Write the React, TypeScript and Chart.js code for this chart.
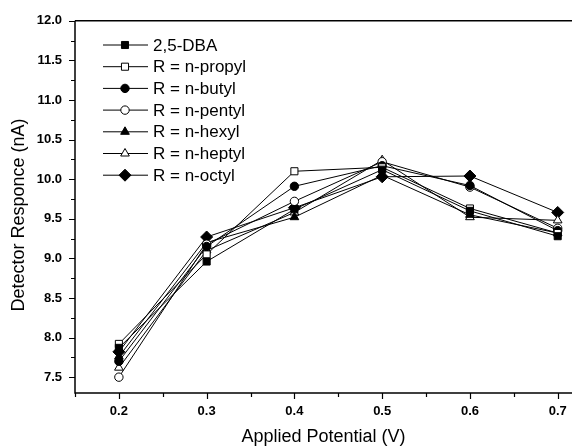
import React, { useEffect, useRef } from 'react';
import { Chart, registerables } from 'chart.js';
import { drawPoint } from 'chart.js/helpers';

Chart.register(...registerables);

const potentials = [0.2, 0.3, 0.4, 0.5, 0.6, 0.7];
const seriesLabels = ['2,5-DBA', 'R = n-propyl', 'R = n-butyl', 'R = n-pentyl', 'R = n-hexyl', 'R = n-heptyl', 'R = n-octyl'];
const dba = [7.87, 8.96, 9.62, 10.12, 9.60, 9.28];
const propyl = [7.92, 9.05, 10.10, 10.15, 9.63, 9.32];
const butyl = [7.70, 9.15, 9.91, 10.17, 9.92, 9.35];
const pentyl = [7.50, 9.18, 9.72, 10.22, 9.90, 9.38];
const hexyl = [7.76, 9.20, 9.52, 10.05, 9.55, 9.32];
const heptyl = [7.62, 9.10, 9.58, 10.24, 9.52, 9.48];
const octyl = [7.82, 9.27, 9.64, 10.03, 10.04, 9.58];
const yTickValues = [7.5, 8.0, 8.5, 9.0, 9.5, 10.0, 10.5, 11.0, 11.5, 12.0];
const xTickValues = [0.2, 0.3, 0.4, 0.5, 0.6, 0.7];
const xTitle = 'Applied Potential (V)';
const yTitle = 'Detector Responce (nA)';

const seriesValues = [dba, propyl, butyl, pentyl, hexyl, heptyl, octyl];
const markerStyles = ['rect', 'rect', 'circle', 'circle', 'triangle', 'triangle', 'rectRot'];
const markerFilled = [true, false, true, false, true, false, true];
const markerRadius = [5, 5, 4.2, 4.2, 5, 5, 6];

const FONT = "'Liberation Sans', Arial, sans-serif";

const overlayPlugin = {
  id: 'overlay',
  afterDraw(chart: any) {
    const ctx = chart.ctx;
    const area = chart.chartArea;
    const xs = chart.scales.x;
    const ys = chart.scales.y;
    ctx.save();
    ctx.strokeStyle = '#000';
    ctx.lineWidth = 1.5;
    ctx.beginPath();
    ctx.moveTo(area.left, area.top);
    ctx.lineTo(area.left, area.bottom);
    ctx.lineTo(area.right, area.bottom);
    ctx.moveTo(area.left, area.top);
    ctx.lineTo(area.right, area.top);
    ctx.stroke();
    ctx.lineWidth = 1.2;
    ctx.beginPath();
    for (let v = 7.5; v <= 12.001; v += 0.25) {
      const y = Math.round(ys.getPixelForValue(v)) + 0.5;
      const major = Math.abs(v * 2 - Math.round(v * 2)) < 1e-6;
      ctx.moveTo(area.left, y);
      ctx.lineTo(area.left - (major ? 6 : 4), y);
    }
    for (let v = 0.15; v <= 0.72; v += 0.05) {
      const x = Math.round(xs.getPixelForValue(v)) + 0.5;
      if (x > area.right) break;
      const major = Math.abs(v * 10 - Math.round(v * 10)) < 1e-6;
      ctx.moveTo(x, area.bottom);
      ctx.lineTo(x, area.bottom + (major ? 6 : 4));
    }
    ctx.stroke();

    ctx.fillStyle = '#000';
    ctx.font = `18px ${FONT}`;
    ctx.textAlign = 'center';
    ctx.textBaseline = 'middle';
    ctx.fillText(xTitle, (area.left + area.right) / 2, 437);
    ctx.save();
    ctx.translate(19, 215);
    ctx.rotate(-Math.PI / 2);
    ctx.fillText(yTitle, 0, 0);
    ctx.restore();

    ctx.font = `17px ${FONT}`;
    ctx.textAlign = 'left';
    chart.data.datasets.forEach((ds: any, i: number) => {
      const y = 45 + i * 21.7;
      ctx.strokeStyle = '#000';
      ctx.lineWidth = 1;
      ctx.beginPath();
      ctx.moveTo(103, y);
      ctx.lineTo(148, y);
      ctx.stroke();
      ctx.fillStyle = ds.pointBackgroundColor;
      ctx.strokeStyle = '#000';
      drawPoint(ctx, { pointStyle: ds.pointStyle, radius: ds.pointRadius, rotation: 0, borderWidth: 1 }, 125, y);
      ctx.fillStyle = '#000';
      ctx.fillText(ds.label, 153, y + 1);
    });
    ctx.restore();
  },
};

export default function App() {
  const ref = useRef<HTMLCanvasElement>(null);
  useEffect(() => {
    if (!ref.current) return;
    const datasets = seriesLabels.map((label, i) => ({
      label,
      data: potentials.map((p, j) => ({ x: p, y: seriesValues[i][j] })),
      borderColor: '#000',
      borderWidth: 1,
      pointStyle: markerStyles[i],
      pointRadius: markerRadius[i],
      pointBackgroundColor: markerFilled[i] ? '#000' : '#fff',
      pointBorderColor: '#000',
      pointBorderWidth: 1,
      fill: false,
      tension: 0,
    }));
    const chart = new Chart(ref.current, {
      type: 'line',
      data: { datasets },
      options: {
        animation: false,
        responsive: false,
        layout: { padding: { top: 17, right: 0, left: 0, bottom: 0 } },
        plugins: { legend: { display: false }, tooltip: { enabled: false } },
        scales: {
          x: {
            type: 'linear',
            min: 0.15,
            max: 0.7163,
            afterBuildTicks: (s: any) => { s.ticks = xTickValues.map((v) => ({ value: v })); },
            afterFit: (s: any) => { s.height = 55; },
            ticks: {
              color: '#000',
              font: { family: FONT, size: 13, weight: 'bold' },
              padding: 11,
              maxRotation: 0,
              callback: (v: any) => Number(v).toFixed(1),
            },
            grid: { display: false, drawTicks: false },
            border: { display: false },
          },
          y: {
            type: 'linear',
            min: 7.3,
            max: 12.0,
            afterBuildTicks: (s: any) => { s.ticks = yTickValues.map((v) => ({ value: v })); },
            afterFit: (s: any) => { s.width = 75; },
            ticks: {
              color: '#000',
              font: { family: FONT, size: 13, weight: 'bold' },
              padding: 13,
              callback: (v: any) => Number(v).toFixed(1),
            },
            grid: { display: false, drawTicks: false },
            border: { display: false },
          },
        },
      },
      plugins: [overlayPlugin],
    } as any);
    return () => chart.destroy();
  }, []);
  return (
    <div style={{ position: 'fixed', left: 0, top: 0, width: 579, height: 448, background: '#fff' }}>
      <canvas ref={ref} width={579} height={448} style={{ width: 579, height: 448 }} />
    </div>
  );
}
